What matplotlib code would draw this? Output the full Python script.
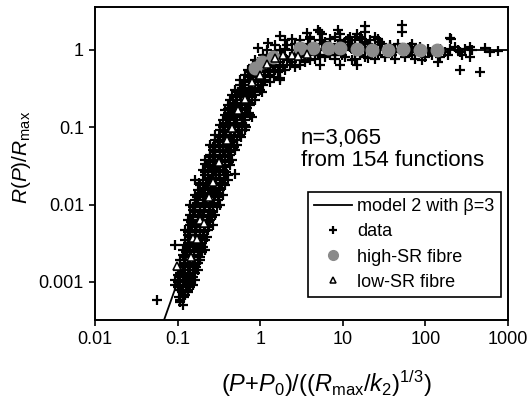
import matplotlib
matplotlib.use("Agg")
from matplotlib import pyplot as plt
import numpy as np

plt.rcParams['font.family'] = ['Liberation Sans', 'DejaVu Sans']
plt.rcParams['mathtext.fontset'] = 'custom'
plt.rcParams['mathtext.rm'] = 'Liberation Sans'
plt.rcParams['mathtext.it'] = 'Liberation Sans:italic'

# model 2 with beta=3
model_x = [0.068, 0.1, 0.15, 0.2, 0.3, 0.4, 0.5, 0.6, 0.7, 0.8, 0.9, 1.0,
           1.2, 1.4, 1.6, 1.8, 2.0, 2.5, 1000]
model_y = [3.14e-4, 0.001, 0.00337, 0.00797, 0.0266, 0.062, 0.1175, 0.1943,
           0.2904, 0.4005, 0.5176, 0.6321, 0.8223, 0.9358, 0.9834, 0.9971,
           0.9997, 1.0, 1.0]

# data crosses, one line per row of the band
data_x = [
    0.115,
    0.057, 0.107,
    0.115, 0.123,
    0.107, 0.132,
    0.0931, 0.115, 0.152,
    0.0931, 0.107, 0.132, 0.163,
    0.0998, 0.115, 0.141,
    0.0998, 0.123, 0.152, 0.175,
    0.107, 0.132, 0.163,
    0.107, 0.123, 0.152, 0.187,
    0.115, 0.141, 0.175,
    0.115, 0.141, 0.175, 0.215,
    0.0931, 0.123, 0.152, 0.187,
    0.123, 0.141, 0.175, 0.215,
    0.132, 0.163, 0.201,
    0.123, 0.141, 0.187, 0.231,
    0.141, 0.163, 0.215, 0.265,
    0.132, 0.152, 0.187, 0.247,
    0.141, 0.175, 0.231, 0.284,
    0.152, 0.187, 0.247,
    0.141, 0.163, 0.215, 0.265, 0.326,
    0.163, 0.201, 0.247, 0.305,
    0.163, 0.187, 0.231, 0.284, 0.350,
    0.175, 0.215, 0.265, 0.326,
    0.187, 0.231, 0.284, 0.375,
    0.163, 0.201, 0.247, 0.326, 0.402,
    0.215, 0.265, 0.326, 0.402,
    0.201, 0.231, 0.284, 0.350,
    0.231, 0.265, 0.326, 0.431,
    0.215, 0.247, 0.305, 0.375, 0.462,
    0.247, 0.284, 0.375, 0.431,
    0.265, 0.326, 0.402, 0.495,
    0.247, 0.284, 0.350, 0.431, 0.531,
    0.284, 0.326, 0.402, 0.531,
    0.284, 0.350, 0.431, 0.569,
    0.326, 0.375, 0.495, 0.610,
    0.326, 0.402, 0.495, 0.654,
    0.350, 0.431, 0.531, 0.654,
    0.375, 0.462, 0.569, 0.753,
    0.375, 0.431, 0.531, 0.654,
    0.402, 0.495, 0.610, 0.753,
    0.431, 0.531, 0.654, 0.865,
    0.462, 0.569, 0.702, 0.865,
    0.495, 0.610, 0.753, 0.995,
    0.569, 0.654, 0.865, 1.07,
    0.569, 0.753, 0.928, 1.14, 1.74,
    0.654, 0.807, 0.995, 1.31,
    0.702, 0.865, 1.14, 1.51, 2.00,
    0.807, 0.995, 1.31, 1.74, 2.30,
    0.865, 1.14, 1.51, 2.14, 3.03, 4.01,
    1.07, 1.41, 1.86, 2.64, 3.74, 5.30, 8.05,
    1.22, 1.74, 2.46, 3.49, 4.94, 7.00, 10.6, 16.1,
    1.51, 2.14, 3.03, 4.61, 7.00, 10.6, 16.1, 24.5, 37.2,
    2.00, 3.03, 5.30, 9.25, 14.0, 21.3,
    2.30, 3.49, 6.09, 10.6, 18.5, 32.4, 56.6, 98.9, 150,
    3.03, 4.61, 8.05, 14.0, 24.5, 42.8, 65.1, 114, 173, 262,
    4.01, 7.00, 12.2, 21.3, 37.2, 65.1, 86.0, 229, 347,
    6.09, 10.6, 18.5, 28.2,
    4.01, 8.05, 12.2, 16.1, 24.5,
    # rows in between
    0.107,
    0.103, 0.120,
    0.113, 0.134,
    0.101, 0.126, 0.141,
    0.101, 0.123, 0.145,
    0.104, 0.126, 0.154,
    0.107, 0.134, 0.163,
    0.115, 0.141, 0.168,
    0.118, 0.141, 0.177,
    0.123, 0.159, 0.187,
    0.126, 0.159, 0.197,
    0.134, 0.168, 0.203,
    0.134, 0.163, 0.197,
    0.141, 0.187, 0.227,
    0.134, 0.168, 0.209,
    0.149, 0.187, 0.240,
    0.145, 0.177, 0.227,
    0.154, 0.203, 0.261,
    0.163, 0.209, 0.268,
    0.154, 0.187, 0.240, 0.300,
    0.177, 0.221, 0.276,
    0.173, 0.209, 0.254, 0.317,
    0.192, 0.240, 0.300,
    0.203, 0.254, 0.317,
    0.183, 0.221, 0.276, 0.345,
    0.234, 0.292, 0.365,
    0.215, 0.261, 0.317, 0.385,
    0.247, 0.300, 0.375,
    0.240, 0.284, 0.345, 0.419,
    0.268, 0.326, 0.408,
    0.284, 0.355, 0.443,
    0.268, 0.317, 0.385, 0.482,
    0.308, 0.365, 0.456,
    0.317, 0.385, 0.482, 0.586,
    0.355, 0.431, 0.538,
    0.355, 0.443, 0.554, 0.673,
    0.385, 0.482, 0.602,
    0.408, 0.509, 0.637, 0.796,
    0.408, 0.482, 0.602, 0.732,
    0.443, 0.554, 0.692,
    0.469, 0.586, 0.732,
    0.509, 0.637, 0.796,
    0.538, 0.673, 0.841, 1.05,
    0.602, 0.732, 0.940,
    0.637, 0.796, 1.02, 1.31,
    0.712, 0.889, 1.11, 1.47,
    0.753, 0.940, 1.24, 1.64,
    0.865, 1.08, 1.43, 1.89, 2.64,
    0.940, 1.24, 1.74, 2.43, 3.49,
    # plateau rows in between
    2.64, 4.61, 8.05, 14.0, 24.5, 42.8, 74.8,
    2.00, 4.24, 6.09, 9.25, 12.9, 18.5, 28.2, 42.8, 56.6, 74.8, 107, 150, 199, 302,
    2.64, 3.74, 5.60, 8.70, 12.9, 20.2, 29.8, 46.6, 68.9,
    2.43, 4.01, 7.00, 11.6, 17.1, 26.7,
    1.51, 3.03, 5.00, 7.00, 9.70, 16.1, 26.7, 39.4, 68.9, 120, 188, 277,
    3.03, 5.30, 9.25, 14.9,
    5.60, 9.25, 14.9,
    # scattered outliers
    0.928, 1.26, 1.74, 3.70, 5.0, 5.3, 8.7, 18.5, 18.5, 52.1, 52.1, 204,
    12.9, 20.2, 91.0, 142, 262, 458, 347, 757, 248, 367, 199, 527, 605,
    1.74, 0.654, 0.402, 0.495, 0.247, 0.215,
]
data_y = [
    0.000502,
    0.000583, 0.000583,
    0.000677, 0.000677,
    0.000786, 0.000786,
    0.000912, 0.000912, 0.000912,
    0.00106, 0.00106, 0.00106, 0.00106,
    0.00123, 0.00123, 0.00123,
    0.00143, 0.00143, 0.00143, 0.00143,
    0.00166, 0.00166, 0.00166,
    0.00192, 0.00192, 0.00192, 0.00192,
    0.00223, 0.00223, 0.00223,
    0.00259, 0.00259, 0.00259, 0.00259,
    0.00300, 0.00300, 0.00300, 0.00300,
    0.00348, 0.00348, 0.00348, 0.00348,
    0.00404, 0.00404, 0.00404,
    0.00469, 0.00469, 0.00469, 0.00469,
    0.00544, 0.00544, 0.00544, 0.00544,
    0.00632, 0.00632, 0.00632, 0.00632,
    0.00733, 0.00733, 0.00733, 0.00733,
    0.00852, 0.00852, 0.00852,
    0.00989, 0.00989, 0.00989, 0.00989, 0.00989,
    0.0115, 0.0115, 0.0115, 0.0115,
    0.0133, 0.0133, 0.0133, 0.0133, 0.0133,
    0.0154, 0.0154, 0.0154, 0.0154,
    0.0179, 0.0179, 0.0179, 0.0179,
    0.0208, 0.0208, 0.0208, 0.0208, 0.0208,
    0.0241, 0.0241, 0.0241, 0.0241,
    0.0280, 0.0280, 0.0280, 0.0280,
    0.0325, 0.0325, 0.0325, 0.0325,
    0.0377, 0.0377, 0.0377, 0.0377, 0.0377,
    0.0438, 0.0438, 0.0438, 0.0438,
    0.0508, 0.0508, 0.0508, 0.0508,
    0.0590, 0.0590, 0.0590, 0.0590, 0.0590,
    0.0685, 0.0685, 0.0685, 0.0685,
    0.0795, 0.0795, 0.0795, 0.0795,
    0.0923, 0.0923, 0.0923, 0.0923,
    0.107, 0.107, 0.107, 0.107,
    0.124, 0.124, 0.124, 0.124,
    0.144, 0.144, 0.144, 0.144,
    0.167, 0.167, 0.167, 0.167,
    0.194, 0.194, 0.194, 0.194,
    0.226, 0.226, 0.226, 0.226,
    0.262, 0.262, 0.262, 0.262,
    0.304, 0.304, 0.304, 0.304,
    0.353, 0.353, 0.353, 0.353,
    0.409, 0.409, 0.409, 0.409, 0.409,
    0.475, 0.475, 0.475, 0.475,
    0.551, 0.551, 0.551, 0.551, 0.551,
    0.640, 0.640, 0.640, 0.640, 0.640,
    0.743, 0.743, 0.743, 0.743, 0.743, 0.743,
    0.862, 0.862, 0.862, 0.862, 0.862, 0.862, 0.862,
    1.0, 1.0, 1.0, 1.0, 1.0, 1.0, 1.0, 1.0,
    1.16, 1.16, 1.16, 1.16, 1.16, 1.16, 1.16, 1.16, 1.16,
    1.35, 1.35, 1.35, 1.35, 1.35, 1.35,
    0.812, 0.812, 0.812, 0.812, 0.812, 0.812, 0.812, 0.812, 0.812,
    0.942, 0.942, 0.942, 0.942, 0.942, 0.942, 0.942, 0.942, 0.942, 0.942,
    1.09, 1.09, 1.09, 1.09, 1.09, 1.09, 1.09, 1.09, 1.09,
    1.27, 1.27, 1.27, 1.27,
    1.47, 1.47, 1.47, 1.47, 1.47,
    # rows in between
    0.000541,
    0.000628, 0.000628,
    0.000729, 0.000729,
    0.000847, 0.000847, 0.000847,
    0.000983, 0.000983, 0.000983,
    0.00114, 0.00114, 0.00114,
    0.00132, 0.00132, 0.00132,
    0.00154, 0.00154, 0.00154,
    0.00178, 0.00178, 0.00178,
    0.00207, 0.00207, 0.00207,
    0.00240, 0.00240, 0.00240,
    0.00279, 0.00279, 0.00279,
    0.00323, 0.00323, 0.00323,
    0.00375, 0.00375, 0.00375,
    0.00436, 0.00436, 0.00436,
    0.00506, 0.00506, 0.00506,
    0.00587, 0.00587, 0.00587,
    0.00681, 0.00681, 0.00681,
    0.00790, 0.00790, 0.00790,
    0.00917, 0.00917, 0.00917, 0.00917,
    0.0106, 0.0106, 0.0106,
    0.0124, 0.0124, 0.0124, 0.0124,
    0.0143, 0.0143, 0.0143,
    0.0166, 0.0166, 0.0166,
    0.0193, 0.0193, 0.0193, 0.0193,
    0.0224, 0.0224, 0.0224,
    0.0260, 0.0260, 0.0260, 0.0260,
    0.0302, 0.0302, 0.0302,
    0.0351, 0.0351, 0.0351, 0.0351,
    0.0407, 0.0407, 0.0407,
    0.0472, 0.0472, 0.0472,
    0.0548, 0.0548, 0.0548, 0.0548,
    0.0636, 0.0636, 0.0636,
    0.0738, 0.0738, 0.0738, 0.0738,
    0.0857, 0.0857, 0.0857,
    0.0994, 0.0994, 0.0994, 0.0994,
    0.115, 0.115, 0.115,
    0.134, 0.134, 0.134, 0.134,
    0.155, 0.155, 0.155, 0.155,
    0.180, 0.180, 0.180,
    0.209, 0.209, 0.209,
    0.243, 0.243, 0.243,
    0.282, 0.282, 0.282, 0.282,
    0.327, 0.327, 0.327,
    0.380, 0.380, 0.380, 0.380,
    0.441, 0.441, 0.441, 0.441,
    0.512, 0.512, 0.512, 0.512,
    0.594, 0.594, 0.594, 0.594, 0.594,
    0.689, 0.689, 0.689, 0.689, 0.689,
    # plateau rows in between
    0.754, 0.754, 0.754, 0.754, 0.754, 0.754, 0.754,
    1.015, 1.015, 1.015, 1.015, 1.015, 1.015, 1.015, 1.015, 1.015, 1.015, 1.015,
    1.015, 1.015, 1.015,
    1.18, 1.18, 1.18, 1.18, 1.18, 1.18, 1.18, 1.18, 1.18,
    1.37, 1.37, 1.37, 1.37, 1.37, 1.37,
    0.874, 0.874, 0.874, 0.874, 0.874, 0.874, 0.874, 0.874, 0.874, 0.874, 0.874,
    0.874,
    0.649, 0.649, 0.649, 0.649,
    1.59, 1.59, 1.59,
    # scattered outliers
    1.06, 1.23, 0.434, 1.66, 1.81, 1.71, 1.81, 2.04, 1.71, 2.11, 1.71, 1.39,
    0.743, 0.788, 0.743, 0.70, 0.551, 0.519, 0.812, 0.971, 1.0, 1.0, 1.43, 1.06, 0.942,
    1.52, 0.0923, 0.172, 0.0250, 0.0410, 0.0330,
]

# high-SR fibre (grey circles)
high_x = [0.865, 1.05, 1.43, 3.03, 4.36, 6.62, 9.25, 14.9, 22.6, 35.2, 53.5, 86.0, 138]
high_y = [0.585, 0.70, 0.812, 1.06, 1.06, 1.06, 1.06, 1.03, 1.0, 1.0, 1.03, 1.0, 1.0]

# low-SR fibre (open triangles)
low_x = [0.0984, 0.145, 0.154, 0.172, 0.187, 0.209, 0.240, 0.268, 0.317, 0.396,
         0.456, 0.538, 0.654, 0.796, 0.995, 1.21, 1.51, 1.89, 2.43, 2.87, 3.69]
low_y = [0.00161, 0.00210, 0.00370, 0.00359, 0.00632, 0.00578, 0.0125, 0.0196,
         0.0356, 0.0685, 0.098, 0.167, 0.232, 0.385, 0.475, 0.659, 0.788, 0.862,
         0.862, 0.836, 0.888]

fig = plt.figure(figsize=(5.3, 4.05), dpi=100)
ax = fig.add_axes([95 / 530, 1 - 320 / 405, 413 / 530, 313 / 405])

ax.plot(data_x, data_y, linestyle='none', marker='+', ms=7, mew=1.6,
        color='black', label='data', zorder=2)
ax.plot(model_x, model_y, color='black', lw=1.3, label='model 2 with β=3', zorder=3)
ax.plot(high_x, high_y, linestyle='none', marker='o', ms=9, mfc='#8a8a8a',
        mec='#8a8a8a', label='high-SR fibre', zorder=4)
ax.plot(low_x, low_y, linestyle='none', marker='^', ms=6, mfc='white',
        mec='black', mew=1.1, label='low-SR fibre', zorder=5)

ax.set_xscale('log')
ax.set_yscale('log')
ax.set_xlim(0.01, 1000)
ax.set_ylim(3.21e-4, 3.6)
ax.set_xticks([0.01, 0.1, 1, 10, 100, 1000])
ax.set_xticklabels(['0.01', '0.1', '1', '10', '100', '1000'])
ax.set_yticks([0.001, 0.01, 0.1, 1])
ax.set_yticklabels(['0.001', '0.01', '0.1', '1'])
ax.minorticks_off()
ax.tick_params(direction='out', length=4, width=1.2, labelsize=13, pad=4)
for s in ax.spines.values():
    s.set_linewidth(1.4)

ax.set_xlabel(r'$(P$+$P_0)/((R_{\rm max}/k_2)^{1/3})$', fontsize=17)
ax.xaxis.set_label_coords(0.56, -0.155)
ax.set_ylabel(r'$R(P)/R_{\rm max}$', fontsize=15)
ax.yaxis.set_label_coords(-0.15, 0.52)

fig.text(301 / 530, 1 - 128 / 405, 'n=3,065\nfrom 154 functions', fontsize=16,
         va='top', ha='left', linespacing=1.05)

handles, labels = ax.get_legend_handles_labels()
order = [1, 0, 2, 3]
leg = ax.legend([handles[i] for i in order], [labels[i] for i in order],
                loc='upper right', bbox_to_anchor=(501 / 530, 1 - 192 / 405),
                bbox_transform=fig.transFigure, borderaxespad=0, fontsize=13,
                fancybox=False, framealpha=1, edgecolor='black',
                handlelength=2.1, handletextpad=0.3, labelspacing=0.45,
                borderpad=0.35)
leg.get_frame().set_linewidth(1.2)
leg.legend_handles[1].set_markersize(6)
leg.legend_handles[2].set_markersize(7)
leg.legend_handles[3].set_markersize(5)

fig.savefig('out.png', dpi=100)
